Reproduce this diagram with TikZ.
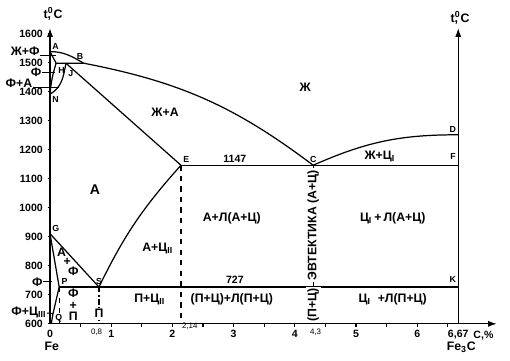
\documentclass[tikz,border=0pt]{standalone}
\usepackage{fontspec}
\setmainfont{Liberation Sans}
\usetikzlibrary{arrows.meta}

\begin{document}
\begin{tikzpicture}[x=1.224cm,y=0.0058cm,line width=0.7pt,
    lbl/.style={font=\fontsize{7}{8}\selectfont\bfseries,inner sep=1pt},
    pnt/.style={font=\fontsize{5}{6}\selectfont\bfseries,inner sep=1pt},
    num/.style={font=\fontsize{6}{7}\selectfont\bfseries,inner sep=1pt},
    sml/.style={font=\fontsize{4.5}{5}\selectfont,inner sep=1pt},
    axis/.style={-{Latex[length=5pt,width=3.5pt]}}]
    \useasboundingbox (-0.817,472.4) rectangle (7.516,1717);
    % points of the diagram
    \coordinate (A) at (0,1539);
    \coordinate (H) at (0.1,1499);
    \coordinate (J) at (0.26,1499);
    \coordinate (B) at (0.55,1499);
    \coordinate (N) at (0,1392);
    \coordinate (E) at (2.14,1147);
    \coordinate (C) at (4.3,1147);
    \coordinate (F) at (6.67,1147);
    \coordinate (D) at (6.67,1252);
    \coordinate (G) at (0,911);
    \coordinate (P) at (0.15,727);
    \coordinate (S) at (0.8,727);
    \coordinate (K) at (6.67,727);
    \coordinate (Q) at (0.05,636);
    \coordinate (O) at (0,600);
    \coordinate (q0) at (0.02,600);
    \coordinate (p0) at (0.15,600);
    \coordinate (s0) at (0.8,600);
    \coordinate (e0) at (2.14,600);
    \coordinate (c0) at (4.3,600);
    \coordinate (k0) at (6.67,600);
    \coordinate (xend) at (7.3,600);
    \coordinate (ytop) at (0,1620);
    \coordinate (ktop) at (6.67,1620);
    % axes
    \draw [axis] (O) -- (ytop);
    \draw [axis] (k0) -- (ktop);
    \draw [axis] (O) -- (xend);
    \foreach \t in {600,700,...,1600} \draw [line width=0.6pt] (-0.04,\t) -- (0,\t);
    \foreach \c in {0.5,1,...,6.5} \draw [line width=0.6pt] (\c,600) -- (\c,590);
    % lines
    \draw (A) to[out=0,in=150] (B);
    \draw (A) -- (H) -- (B);
    \draw (H) to[bend right=6] (N);
    \draw (J) to[out=-100,in=30] (N);
    \draw (B) to[bend left=13] (C);
    \draw (C) to[bend left=12] (D);
    \draw (J) -- (E);
    \draw (E) -- (F);
    \draw (G) -- (S);
    \draw (G) -- (P);
    \draw (P) -- (K);
    \draw (P) -- (Q) -- (q0);
    \draw (S) to[bend left=8] (E);
    \draw [dashed] (E) -- (e0);
    \draw [dash pattern=on 3pt off 1.5pt on 1pt off 1.5pt] (S) -- (s0);
    \draw [dashed,line width=0.5pt] (P) -- (p0);
    \draw [dashed] (C) -- (c0);
    % point letters
    \node [pnt,anchor=south west] (la) at (A) {A};
    \node [pnt,above=1pt] (lb) at ([xshift=-2pt]B) {B};
    \node [pnt,anchor=north west] (lh) at ([yshift=-1pt]H) {H};
    \node [pnt,anchor=north west] (lj) at ([yshift=-3pt]J) {J};
    \node [pnt,anchor=north west] (ln) at (N) {N};
    \node [pnt,anchor=south west] (le) at (E) {E};
    \node [pnt,above] (lc) at (C) {C};
    \node [pnt,anchor=south east] (ld) at (D) {D};
    \node [pnt,anchor=south east] (lf) at ([yshift=2pt]F) {F};
    \node [pnt,anchor=south east] (lk) at ([yshift=1pt]K) {K};
    \node [pnt,anchor=south west] (lg) at (G) {G};
    \node [pnt,above] (ls) at (S) {S};
    \node [pnt,anchor=south west] (lp) at (P) {P};
    \node [pnt,anchor=north west] (lq) at ([yshift=1pt]Q) {Q};
    % phase regions
    \node [lbl] (liq) at (4.17,1417) {Ж};
    \node [lbl] (liqa) at (1.88,1331) {Ж+А};
    \node [lbl] (liqc) at (5.39,1176) {Ж+Ц\textsubscript{I}};
    \node [num] (t1147) at (3.02,1168) {1147};
    \node [font=\fontsize{8}{9}\selectfont\bfseries] (aus) at (0.735,1062) {А};
    \node [lbl] (ala) at (2.97,965) {А+Л(А+Ц)};
    \node [lbl] (cla) at (5.6,965) {Ц\textsubscript{I}\,+\,Л(А+Ц)};
    \node [lbl] (ac2) at (1.76,859) {А+Ц\textsubscript{II}};
    \node [lbl,rotate=90,fill=white] (evt) at (4.3,940) {ЭВТЕКТИКА (А+Ц)};
    \node [num] (t727) at (3.02,752) {727};
    \node [lbl] (af1) at (0.19,846) {А};
    \node [lbl,inner sep=0pt] (af2) at (0.28,814) {+};
    \node [lbl] (af3) at (0.38,783) {Ф};
    \node [lbl,align=center,font=\fontsize{7}{6.5}\selectfont\bfseries] (fp) at (0.38,665) {Ф\\+\\П};
    \node [lbl,fill=white,inner sep=0.5pt] (perl) at (0.8,638) {П};
    \node [lbl] (pc2) at (1.63,683) {П+Ц\textsubscript{II}};
    \node [lbl] (plp) at (2.97,683) {(П+Ц)+Л(П+Ц)};
    \node [lbl,rotate=90,fill=white] (pc) at (4.3,665) {(П+Ц)};
    \node [lbl] (clp) at (5.6,683) {Ц\textsubscript{I}\ \ +Л(П+Ц)};
    % labels on the left
    \node [lbl,anchor=south east,inner sep=0pt] (lzf) at (-0.16,1524) {Ж+Ф};
    \draw [line width=0.6pt] (lzf.south east) -- (0.1,1524);
    \node [lbl,anchor=east,inner sep=0pt] (lf1) at (-0.13,1466) {Ф};
    \draw [line width=0.6pt] (lf1) -- (0.08,1466);
    \node [lbl,anchor=south east,inner sep=0pt] (lfa) at (-0.28,1414) {Ф+А};
    \draw [line width=0.6pt] (lfa.south east) -- (0.15,1414);
    \node [lbl,anchor=east,inner sep=0pt] (lf2) at (-0.11,745) {Ф};
    \draw [line width=0.6pt] (lf2) -- (0.03,745);
    \node [lbl,anchor=east,inner sep=0pt] (lfc) at (-0.05,640) {Ф+Ц\textsubscript{III}};
    \draw [line width=0.6pt] (lfc) -- (Q);
    % temperature scale
    \node [num,anchor=east] (y16) at (-0.08,1600) {1600};
    \node [num,anchor=east] (y15) at (-0.08,1500) {1500};
    \node [num,anchor=east] (y14) at (-0.08,1400) {1400};
    \node [num,anchor=east] (y13) at (-0.08,1300) {1300};
    \node [num,anchor=east] (y12) at (-0.08,1200) {1200};
    \node [num,anchor=east] (y11) at (-0.08,1100) {1100};
    \node [num,anchor=east] (y10) at (-0.08,1000) {1000};
    \node [num,anchor=east] (y9) at (-0.08,900) {900};
    \node [num,anchor=east] (y8) at (-0.08,800) {800};
    \node [num,anchor=east] (y7) at (-0.08,700) {700};
    \node [num,anchor=east] (y6) at (-0.08,600) {600};
    \node [lbl] (tl) at (0.05,1668) {t,\kern-1.8pt\textsuperscript{0}C};
    \node [lbl] (tr) at (6.7,1655) {t,\kern-1.8pt\textsuperscript{0}C};
    % carbon scale
    \node [num,below] (x0) at (0,586) {0};
    \node [lbl,below] (fe) at (0.03,546) {Fe};
    \node [sml,below] (x08) at (0.76,592) {0,8};
    \node [num,below] (x1) at (1,586) {1};
    \node [num,below] (x2) at (2,586) {2};
    \node [sml,right] (x214) at (2.12,590) {2,14};
    \node [num,below] (x3) at (3,586) {3};
    \node [num,below] (x4) at (4,586) {4};
    \node [sml,below] (x43) at (4.34,592) {4,3};
    \node [num,below] (x5) at (5,586) {5};
    \node [num,below] (x6) at (6,586) {6};
    \node [num,below] (x667) at (6.67,586) {6,67};
    \node [num,anchor=west] (cpc) at (6.88,560) {С,\%};
    \node [lbl,below] (fe3c) at (6.72,546) {Fe\textsubscript{3}C};
\end{tikzpicture}
\end{document}
